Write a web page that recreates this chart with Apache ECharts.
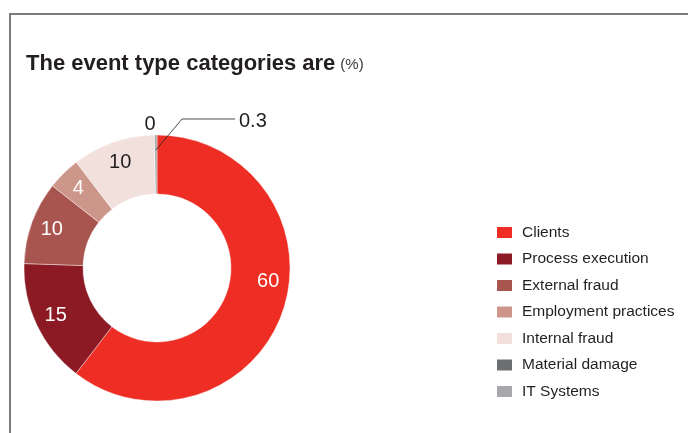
<!DOCTYPE html>
<html>
<head>
<meta charset="utf-8">
<script src="https://cdn.jsdelivr.net/npm/echarts@6/dist/echarts.min.js"></script>
<style>
  html, body { margin: 0; padding: 0; background: #fff; }
  #frame { position: absolute; left: 9px; top: 13px; width: 679px; height: 420px;
           border-top: 2px solid #7b7b7b; border-left: 2px solid #7b7b7b; box-sizing: border-box; }
  #chart { position: absolute; left: 0; top: 0; width: 688px; height: 433px; }
</style>
</head>
<body>
<div id="frame"></div>
<div id="chart"></div>
<script>
const titleMain = 'The event type categories are';
const titleUnit = '(%)';
const categories = ['Clients', 'Process execution', 'External fraud', 'Employment practices', 'Internal fraud', 'Material damage', 'IT Systems'];
const values = [60, 15, 10, 4, 10, 0, 0.3];
const colors = ['#EE2E24', '#8B1A24', '#A8544F', '#CC968A', '#F2E0DC', '#6D6E71', '#A7A8AC'];
const labelColors = ['#ffffff', '#ffffff', '#ffffff', '#ffffff', '#231F20', '#231F20', '#231F20'];

const FONT = "'Liberation Sans', Arial, Helvetica, sans-serif";
const CX = 157, CY = 268, R0 = 74, R = 133;
const total = values.reduce((a, b) => a + b, 0);
function midAngle(i) {
  let cum = 0;
  for (let k = 0; k < i; k++) cum += values[k];
  return (cum + values[i] / 2) / total * 360;
}
const rad = d => d * Math.PI / 180;

function labelLayoutFn(p) {
  const i = p.dataIndex;
  if (i <= 4) {
    const a = midAngle(i) + (i === 0 ? -12 : 0);
    const r = 112;
    return { x: CX + r * Math.sin(rad(a)), y: CY - r * Math.cos(rad(a)), align: 'center', verticalAlign: 'middle' };
  }
  if (i === 5) {
    return { x: CX - 7, y: CY - R - 11, align: 'center', verticalAlign: 'middle' };
  }
  const a = midAngle(i);
  const p0 = [CX + (R - 15) * Math.sin(rad(a)), CY - (R - 15) * Math.cos(rad(a))];
  const p1 = [CX + 25, CY - R - 16];
  const p2 = [CX + 78, CY - R - 16];
  return { x: p2[0] + 4, y: p2[1] + 2, align: 'left', verticalAlign: 'middle', labelLinePoints: [p0, p1, p2] };
}

const chart = echarts.init(document.getElementById('chart'), null, { renderer: 'canvas' });
chart.setOption({
  animation: false,
  title: {
    text: '{a|' + titleMain + '} {b|' + titleUnit + '}',
    left: 21, top: 46,
    textStyle: {
      rich: {
        a: { fontFamily: FONT, fontWeight: 'bold', fontSize: 22, lineHeight: 26, color: '#231F20' },
        b: { fontFamily: FONT, fontWeight: 'normal', fontSize: 15, lineHeight: 26, color: '#3a3a3a', padding: [2, 0, 0, 0] }
      }
    }
  },
  legend: {
    orient: 'vertical',
    left: 490, top: 218.5,
    icon: 'rect',
    itemWidth: 17, itemHeight: 13,
    itemGap: 8.5,
    selectedMode: false,
    textStyle: { fontFamily: FONT, fontSize: 15.5, color: '#231F20', lineHeight: 18, padding: [0, 0, 0, 4] },
    data: categories.map((c, i) => ({ name: c, itemStyle: { color: colors[i] } }))
  },
  series: [{
    type: 'pie',
    z: 2,
    center: [CX, CY],
    radius: [R0, R],
    startAngle: 90,
    clockwise: true,
    avoidLabelOverlap: false,
    minShowLabelAngle: 0,
    emphasis: { disabled: true },
    itemStyle: { borderColor: '#ffffff', borderWidth: 0.4 },
    label: { show: true, position: 'inside', formatter: '{c}', fontFamily: FONT, fontSize: 20 },
    labelLine: { show: false },
    labelLayout: labelLayoutFn,
    data: categories.map((c, i) => {
      const item = { name: c, value: values[i], itemStyle: { color: colors[i] }, label: { color: labelColors[i] } };
      if (i === 6) item.label.show = false;
      if (i === 5) item.label.position = 'outside';
      return item;
    })
  }, {
    // transparent overlay that carries the IT Systems leader line above the ring
    type: 'pie',
    z: 5,
    silent: true,
    center: [CX, CY],
    radius: [R0, R],
    startAngle: 90,
    clockwise: true,
    avoidLabelOverlap: false,
    minShowLabelAngle: 0,
    emphasis: { disabled: true },
    itemStyle: { color: 'rgba(0,0,0,0)', borderWidth: 0 },
    label: { show: false, fontFamily: FONT, fontSize: 20, formatter: '{c}' },
    labelLine: { show: false },
    labelLayout: labelLayoutFn,
    data: categories.map((c, i) => {
      const item = { name: c, value: values[i] };
      if (i === 6) {
        item.label = { show: true, position: 'outside', color: labelColors[i] };
        item.labelLine = { show: true, maxSurfaceAngle: 180, minTurnAngle: 0, lineStyle: { color: '#231F20', width: 0.8 } };
      }
      return item;
    })
  }]
});
</script>
</body>
</html>
